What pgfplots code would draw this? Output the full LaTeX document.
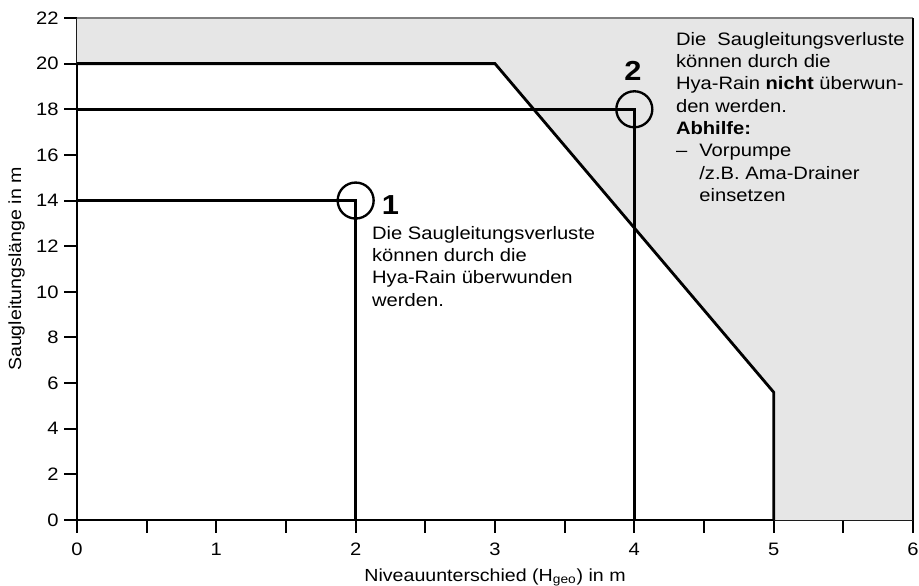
\documentclass[border=0pt]{standalone}
\usepackage{pgfplots}
\pgfplotsset{compat=1.18}
\usepackage{fontspec}
\setmainfont{Liberation Sans}[FakeStretch=1.12]
\definecolor{zonegray}{RGB}{230,230,230}
\begin{document}
\begin{tikzpicture}
\path[use as bounding box] (-46.2pt,-39pt) rectangle (505.2pt,312pt);
\begin{axis}[
  scale only axis, width=501.6pt, height=301.2pt,
  xmin=0, xmax=6, ymin=0, ymax=22,
  axis x line*=bottom, axis y line*=left,
  axis line style={-, line width=1.5pt},
  xtick={0,1,...,6}, minor xtick={0.5,1.5,2.5,3.5,4.5,5.5},
  ytick={0,2,...,22},
  tick align=outside, major tick length=7.5pt, minor tick length=7.5pt,
  every tick/.style={black, line width=1.2pt},
  every minor tick/.style={black, line width=1.2pt},
  /pgf/number format/assume math mode=true,
  tick label style={font=\fontsize{10.8}{12}\selectfont},
  xticklabel style={yshift=-3pt},
  xlabel={Niveauunterschied (H\textsubscript{geo}) in m},
  ylabel={Saugleitungslänge in m},
  label style={font=\fontsize{10.5}{12}\selectfont},
  xlabel style={yshift=-0.5pt},
  clip=false,
]
\addplot[fill=zonegray, draw=none] coordinates {(0,20) (3,20) (5,5.6) (5,0) (6,0) (6,22) (0,22)} -- cycle;
\addplot[gray, line width=0.7pt] coordinates {(0,22) (6,22)};
\addplot[black, line width=1.5pt] coordinates {(6,0) (6,22)};
\addplot[black, line width=1.7pt] coordinates {(0,20) (3,20) (5,5.6) (5,0)};
\addplot[black, line width=1.7pt] coordinates {(0,14) (2,14) (2,0)};
\addplot[black, line width=1.7pt] coordinates {(0,18) (4,18) (4,0)};
\addplot[only marks, mark=o, mark size=10.8pt, mark options={line width=1.4pt, black}] coordinates {(2,14) (4,18)};
\node[font=\bfseries\fontsize{16.5}{16.5}\selectfont] at (axis cs:2.25,13.8) {1};
\node[font=\bfseries\fontsize{16.5}{16.5}\selectfont] at (axis cs:3.99,19.7) {2};
\node[anchor=north west, inner sep=0pt, align=left, font=\fontsize{10.8}{13.4}\selectfont] at (axis cs:2.116,12.9)
  {Die Saugleitungsverluste\\können durch die\\Hya-Rain überwunden\\werden.};
\node[anchor=north west, inner sep=0pt, align=left, font=\fontsize{10.8}{13.4}\selectfont] at (axis cs:4.297,21.4)
  {Die\ \ Saugleitungsverluste\\können durch die\\Hya-Rain \textbf{nicht} überwun-\\den werden.\\\textbf{Abhilfe:}\\\makebox[14pt][l]{–}Vorpumpe\\\hspace*{14pt}/z.B. Ama-Drainer\\\hspace*{14pt}einsetzen};
\end{axis}
\end{tikzpicture}
\end{document}
